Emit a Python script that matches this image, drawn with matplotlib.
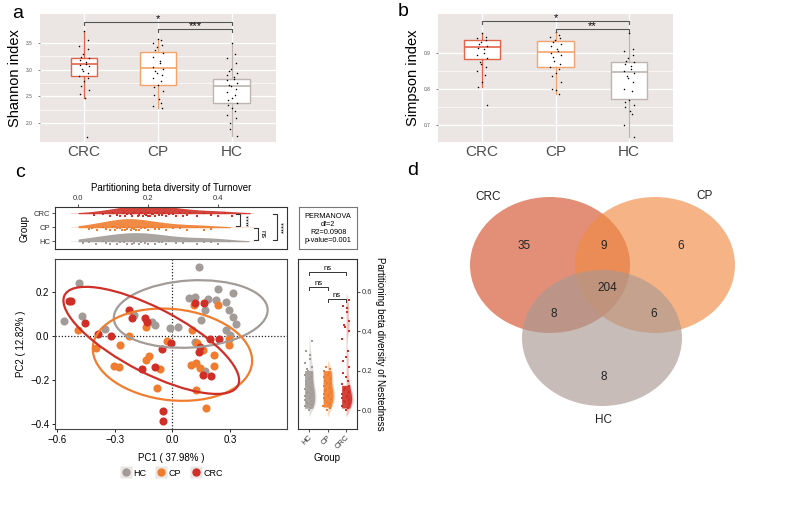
import numpy as np
import matplotlib.pyplot as plt
from matplotlib.patches import Ellipse
from matplotlib.lines import Line2D

plt.rcParams['font.family'] = ['Liberation Sans', 'DejaVu Sans']

# ---- panel a / b : alpha diversity boxplots ----
box_groups = ['CRC', 'CP', 'HC']
# q1, median, q3, lower whisker, upper whisker
shannon_stats = {'CRC': [2.89, 3.11, 3.22, 2.48, 3.72],
                 'CP': [2.72, 3.04, 3.33, 2.28, 3.57],
                 'HC': [2.37, 2.69, 2.83, 1.76, 3.50]}
simpson_stats = {'CRC': [0.883, 0.917, 0.936, 0.805, 0.955],
                 'CP': [0.860, 0.903, 0.934, 0.786, 0.958],
                 'HC': [0.772, 0.847, 0.876, 0.667, 0.955]}

crc_shannon = [3.72, 3.55, 3.45, 3.38, 3.3, 3.24, 3.21, 3.18, 3.14, 3.11, 3.09, 3.06, 3.02,
               2.98, 2.93, 2.88, 2.84, 2.78, 2.7, 2.62, 2.55, 2.48, 1.74]
cp_shannon = [3.57, 3.55, 3.5, 3.46, 3.42, 3.36, 3.32, 3.24, 3.16, 3.12, 3.05, 3.02, 2.98,
              2.94, 2.9, 2.85, 2.78, 2.72, 2.68, 2.6, 2.52, 2.45, 2.38, 2.32, 2.28]
hc_shannon = [3.5, 3.3, 3.22, 3.12, 3.02, 2.98, 2.94, 2.9, 2.86, 2.83, 2.8, 2.76, 2.72, 2.69,
              2.63, 2.58, 2.52, 2.47, 2.43, 2.38, 2.34, 2.28, 2.22, 2.16, 2.1, 2.0, 1.9, 1.76]

crc_simpson = [0.955, 0.945, 0.94, 0.935, 0.93, 0.925, 0.92, 0.915, 0.91, 0.9, 0.895, 0.885,
               0.875, 0.87, 0.86, 0.85, 0.84, 0.82, 0.805, 0.755]
cp_simpson = [0.958, 0.95, 0.945, 0.94, 0.935, 0.93, 0.925, 0.92, 0.912, 0.905, 0.9, 0.895,
              0.888, 0.878, 0.868, 0.86, 0.855, 0.845, 0.835, 0.82, 0.80, 0.798, 0.786]
hc_simpson = [0.955, 0.91, 0.905, 0.895, 0.885, 0.878, 0.875, 0.87, 0.865, 0.855, 0.85, 0.845,
              0.835, 0.83, 0.82, 0.80, 0.795, 0.77, 0.765, 0.755, 0.75, 0.74, 0.73, 0.7, 0.667]

# ---- panel c : turnover / nestedness / PCoA ----
crc_turn = [0.045, 0.07, 0.09, 0.1, 0.11, 0.12, 0.13, 0.135, 0.14, 0.15, 0.155, 0.16, 0.17,
            0.175, 0.18, 0.185, 0.19, 0.195, 0.2, 0.2, 0.205, 0.21, 0.215, 0.22, 0.225, 0.23,
            0.24, 0.245, 0.25, 0.26, 0.27, 0.28, 0.29, 0.3, 0.31, 0.32, 0.34, 0.36, 0.38, 0.4,
            0.42, 0.44]
cp_turn = [0.03, 0.04, 0.055, 0.07, 0.08, 0.09, 0.1, 0.105, 0.11, 0.12, 0.125, 0.13, 0.135,
           0.14, 0.145, 0.15, 0.155, 0.16, 0.165, 0.17, 0.175, 0.18, 0.19, 0.2, 0.21, 0.22,
           0.23, 0.24, 0.25, 0.27, 0.29, 0.31, 0.34, 0.36, 0.38]
hc_turn = [0.015, 0.03, 0.05, 0.07, 0.08, 0.09, 0.1, 0.11, 0.12, 0.13, 0.14, 0.15, 0.155,
           0.16, 0.17, 0.175, 0.18, 0.19, 0.2, 0.21, 0.22, 0.23, 0.24, 0.25, 0.26, 0.28, 0.3,
           0.32, 0.34, 0.36, 0.38, 0.4, 0.43]

hc_nest = [0.0, 0.01, 0.02, 0.025, 0.03, 0.04, 0.045, 0.05, 0.06, 0.065, 0.07, 0.08, 0.085,
           0.09, 0.1, 0.105, 0.11, 0.12, 0.13, 0.14, 0.15, 0.16, 0.17, 0.18, 0.19, 0.2, 0.21,
           0.22, 0.24, 0.26, 0.28, 0.3, 0.35]
cp_nest = [0.0, 0.01, 0.02, 0.03, 0.04, 0.05, 0.055, 0.06, 0.07, 0.075, 0.08, 0.09, 0.095,
           0.1, 0.11, 0.12, 0.13, 0.14, 0.15, 0.16, 0.17, 0.18, 0.19, 0.2, 0.21, 0.22]
crc_nest = [0.0, 0.01, 0.02, 0.03, 0.04, 0.045, 0.05, 0.06, 0.065, 0.07, 0.08, 0.09, 0.1,
            0.11, 0.12, 0.13, 0.15, 0.17, 0.19, 0.22, 0.25, 0.27, 0.3, 0.36, 0.4, 0.42, 0.43,
            0.45, 0.47, 0.5, 0.52, 0.53, 0.56]

hc_pc1 = [-0.562, -0.487, -0.47, -0.351, -0.2, -0.104, -0.09, -0.014, 0.031, 0.136, 0.087,
          0.118, 0.183, 0.17, 0.148, 0.235, 0.226, 0.278, 0.313, 0.296, 0.313, 0.33, 0.278,
          0.299, 0.118, 0.17]
hc_pc2 = [0.069, 0.241, 0.092, 0.032, 0.095, 0.065, 0.05, 0.036, 0.039, 0.313, 0.174, 0.177,
          0.17, 0.12, 0.072, 0.215, 0.162, 0.155, 0.195, 0.117, 0.087, 0.054, 0.027, 0.005,
          -0.026, -0.161]
cp_pc1 = [-0.492, -0.397, -0.27, -0.304, -0.275, -0.226, -0.136, -0.139, -0.122, -0.064,
          -0.078, -0.026, 0.099, 0.11, 0.096, 0.122, 0.144, 0.127, 0.16, 0.214, 0.217, 0.235,
          0.292, 0.296, 0.122, 0.174]
cp_pc2 = [0.027, -0.056, -0.041, -0.138, -0.141, 0.0, 0.042, -0.111, -0.09, -0.15, -0.236,
          -0.021, 0.027, 0.14, -0.131, -0.123, -0.146, -0.03, -0.063, -0.086, -0.135, 0.143,
          -0.015, -0.041, -0.244, -0.326]
crc_pc1 = [-0.539, -0.525, -0.456, -0.388, -0.317, -0.226, -0.209, -0.143, -0.13, -0.056,
           -0.009, -0.157, -0.09, -0.049, -0.049, 0.118, 0.165, 0.139, 0.143, 0.195, 0.24,
           0.157, 0.2]
crc_pc2 = [0.158, 0.159, 0.057, 0.008, 0.0, 0.12, 0.08, 0.083, 0.062, -0.059, -0.03, -0.15,
           -0.141, -0.341, -0.386, 0.15, 0.15, -0.071, -0.048, -0.012, -0.012, -0.176, -0.18]

# confidence ellipses: centre x, centre y, width, height, angle
ellipse_hc = [0.095, 0.10, 0.80, 0.305, 3]
ellipse_cp = [0.0, -0.085, 0.83, 0.415, -5]
ellipse_crc = [-0.11, -0.02, 0.99, 0.30, -24]

# ---- panel d : venn ----
venn_sets = ['CRC', 'CP', 'HC']
venn_counts = [35, 9, 6, 204, 8, 6, 8]

col_grey = '#a29b98'
col_orange = '#f07d2f'
col_red = '#cf2f27'
box_edge = {'CRC': '#e0634a', 'CP': '#f4a36c', 'HC': '#bcb5b1'}


def jitter(n, amp):
    return np.sin(np.arange(n) * 2.4) * amp


def kde(vals, grid, bw):
    v = np.asarray(vals)[:, None]
    return np.exp(-0.5 * ((grid[None, :] - v) / bw) ** 2).sum(axis=0)


fig = plt.figure(figsize=(8, 5.08), dpi=100)


def alpha_box(rect, stats, points, widths, ylim, yticks, ylabel, brackets):
    ax = fig.add_axes(rect)
    ax.set_facecolor('#ebe6e3')
    for s in ax.spines.values():
        s.set_visible(False)
    for i, g in enumerate(box_groups):
        q1, med, q3, lo, hi = stats[g]
        st = [dict(med=med, q1=q1, q3=q3, whislo=lo, whishi=hi, fliers=[])]
        c = box_edge[g]
        ax.bxp(st, positions=[i + 1], widths=widths[i], showcaps=False, patch_artist=True,
               boxprops=dict(facecolor='white', edgecolor=c, lw=1.0),
               medianprops=dict(color=c, lw=1.2), whiskerprops=dict(color=c, lw=0.9),
               zorder=3)
        pts = points[i]
        ax.scatter(i + 1 + jitter(len(pts), 0.07), pts, s=1.2, color='black', zorder=4, lw=0)
    ax.set_xlim(0.4, 3.6)
    ax.set_ylim(*ylim)
    ax.set_yticks(yticks)
    mids = [(a + b) / 2 for a, b in zip(yticks[:-1], yticks[1:])]
    ax.set_yticks(mids, minor=True)
    ax.grid(True, which='major', color='white', lw=0.9)
    ax.grid(True, which='minor', color='white', lw=0.5)
    ax.set_axisbelow(True)
    ax.set_xticks([1, 2, 3])
    ax.set_xticklabels(box_groups, fontsize=11, color='#4d4d4d')
    ax.tick_params(axis='y', labelsize=3.5, colors='#555555', length=1.5, width=0.5)
    ax.tick_params(axis='y', which='minor', length=0)
    ax.tick_params(axis='x', length=0, pad=2)
    ax.set_ylabel(ylabel, fontsize=10.5, labelpad=3)
    h = (ylim[1] - ylim[0]) * 0.025
    for x1, x2, y, txt in brackets:
        ax.plot([x1, x1, x2, x2], [y - h, y, y, y - h], color='#555555', lw=0.8, zorder=5)
        ax.text((x1 + x2) / 2, y - h * 0.6, txt, ha='center', va='bottom', fontsize=8, zorder=5)
    return ax


alpha_box([0.05, 0.7205, 0.295, 0.252], shannon_stats,
          [crc_shannon, cp_shannon, hc_shannon], [0.35, 0.5, 0.5], (1.65, 4.04),
          [2.0, 2.5, 3.0, 3.5], 'Shannon index',
          [(1, 3, 3.89, '*'), (2, 3, 3.76, '***')])
alpha_box([0.5475, 0.7205, 0.294, 0.252], simpson_stats,
          [crc_simpson, cp_simpson, hc_simpson], [0.5, 0.5, 0.5], (0.653, 1.008),
          [0.7, 0.8, 0.9], 'Simpson index',
          [(1, 3, 0.989, '*'), (2, 3, 0.967, '**')])

# ---- turnover raincloud ----
ax_t = fig.add_axes([0.06875, 0.5098, 0.29, 0.0827])
turn = [('CRC', crc_turn, col_red, 3), ('CP', cp_turn, col_orange, 2), ('HC', hc_turn, col_grey, 1)]
grid = np.linspace(0.0, 0.5, 300)
for name, vals, c, y in turn:
    d = kde(vals, grid, 0.045)
    d = d / d.max() * 0.6
    ax_t.plot([-0.02, 0.5], [y, y], color=c, alpha=0.2, lw=0.8)
    ax_t.fill_between(grid, y - 0.05, y + d, where=d > 0.03, color=c, alpha=0.9, lw=0)
    ax_t.scatter(vals, y - 0.12 + jitter(len(vals), 0.12), s=3, marker='s', color=c, lw=0)
ax_t.set_xlim(-0.066, 0.597)
ax_t.set_ylim(0.43, 3.43)
ax_t.xaxis.tick_top()
ax_t.xaxis.set_label_position('top')
ax_t.set_xticks([0.0, 0.2, 0.4])
ax_t.set_xticklabels(['0.0', '0.2', '0.4'])
ax_t.set_yticks([3, 2, 1])
ax_t.set_yticklabels(['CRC', 'CP', 'HC'])
ax_t.tick_params(labelsize=5.5, length=2, width=0.6, pad=1.5, colors='#333333')
ax_t.set_xlabel('Partitioning beta diversity of Turnover', fontsize=7, labelpad=3)
ax_t.set_ylabel('Group', fontsize=7, labelpad=3)
for s in ax_t.spines.values():
    s.set_linewidth(0.8)
    s.set_color('#333333')
for x, y1, y2, txt, tx, rot in [(0.463, 2.95, 2.05, '****', 0.49, 90),
                                (0.514, 1.95, 1.05, 'ns', 0.525, 270),
                                (0.569, 2.95, 1.05, '****', 0.59, 90)]:
    ax_t.plot([x - 0.012, x, x, x - 0.012], [y1, y1, y2, y2], color='#333333', lw=0.8)
    ax_t.text(tx, (y1 + y2) / 2, txt, rotation=rot, ha='center', va='center', fontsize=5.5)

# ---- PERMANOVA box ----
ax_p = fig.add_axes([0.374, 0.5098, 0.0725, 0.0827])
ax_p.set_xticks([])
ax_p.set_yticks([])
for s in ax_p.spines.values():
    s.set_color('#777777')
    s.set_linewidth(0.8)
ax_p.text(0.5, 0.5, 'PERMANOVA\ndf=2\nR2=0.0908\np-value=0.001', ha='center', va='center',
          fontsize=5.3, linespacing=1.2, transform=ax_p.transAxes)

# ---- PCoA ----
ax_c = fig.add_axes([0.06875, 0.1555, 0.29, 0.3346])
ax_c.axvline(0, color='#222222', ls=(0, (1, 1.5)), lw=0.9, zorder=1)
ax_c.axhline(0, color='#222222', ls=(0, (1, 1.5)), lw=0.9, zorder=1)
for xs, ys, c in [(hc_pc1, hc_pc2, col_grey), (cp_pc1, cp_pc2, col_orange),
                  (crc_pc1, crc_pc2, col_red)]:
    ax_c.scatter(xs, ys, s=34, color=c, lw=0, zorder=2)
for e, c in [(ellipse_hc, col_grey), (ellipse_cp, col_orange), (ellipse_crc, col_red)]:
    ax_c.add_patch(Ellipse((e[0], e[1]), e[2], e[3], angle=e[4], fill=False, edgecolor=c,
                           lw=1.6, zorder=3))
ax_c.set_xlim(-0.61, 0.595)
ax_c.set_ylim(-0.423, 0.35)
ax_c.set_xticks([-0.6, -0.3, 0.0, 0.3])
ax_c.set_xticklabels(['\u22120.6', '\u22120.3', '0.0', '0.3'])
ax_c.set_yticks([-0.4, -0.2, 0.0, 0.2])
ax_c.set_yticklabels(['\u22120.4', '\u22120.2', '0.0', '0.2'])
ax_c.tick_params(labelsize=7, length=2.5, width=0.6, pad=1.5)
ax_c.set_xlabel('PC1 ( 37.98% )', fontsize=7, labelpad=6)
ax_c.set_ylabel('PC2 ( 12.82% )', fontsize=7, labelpad=3)
for s in ax_c.spines.values():
    s.set_linewidth(0.8)
    s.set_color('#444444')

# legend with ggplot-like grey key backgrounds
handles = [(Line2D([], [], ls='', marker='s', ms=9, mfc='#ebe6e3', mec='none'),
            Line2D([], [], ls='', marker='o', ms=6, mfc=c, mec='none'))
           for c in [col_grey, col_orange, col_red]]
fig.legend(handles, ['HC', 'CP', 'CRC'], loc='center',
           bbox_to_anchor=(172 / 800, 1 - 473 / 508), ncol=3, frameon=False,
           fontsize=6.5, handletextpad=0.3, columnspacing=1.2, handlelength=1.0)

# ---- nestedness ----
ax_n = fig.add_axes([0.3725, 0.1555, 0.07375, 0.3346])
nest = [('HC', hc_nest, col_grey, 1), ('CP', cp_nest, col_orange, 2), ('CRC', crc_nest, col_red, 3)]
for name, vals, c, x in nest:
    gy = np.linspace(-0.03, max(vals) + 0.03, 200)
    d = kde(vals, gy, 0.025)
    d = d / d.max()
    # faint half violin on the right, solid block of points in the core
    ax_n.fill_betweenx(gy, x, x + 0.38 * d, color=c, alpha=0.3, lw=0)
    ax_n.fill_betweenx(gy, x - 0.24, x + 0.3 * d, where=d > 0.6, color=c, alpha=0.9, lw=0)
    ax_n.scatter(x - 0.02 + jitter(len(vals), 0.2), vals, s=2.5, marker='s', color=c, lw=0)
ax_n.set_xlim(0.405, 3.59)
ax_n.set_ylim(-0.096, 0.767)
ax_n.yaxis.tick_right()
ax_n.yaxis.set_label_position('right')
ax_n.set_yticks([0.0, 0.2, 0.4, 0.6])
ax_n.set_xticks([1, 2, 3])
ax_n.set_xticklabels(['HC', 'CP', 'CRC'], rotation=45, ha='right', rotation_mode='anchor')
ax_n.tick_params(labelsize=5.5, length=2, width=0.6, pad=1.5, colors='#333333')
ax_n.set_ylabel('Partitioning beta diversity of Nestedness', rotation=270, fontsize=7,
                labelpad=9)
ax_n.set_xlabel('Group', fontsize=7, labelpad=2)
for s in ax_n.spines.values():
    s.set_linewidth(0.8)
    s.set_color('#333333')
for x1, x2, y in [(1, 3, 0.70), (1, 2, 0.625), (2, 3, 0.565)]:
    ax_n.plot([x1, x1, x2, x2], [y - 0.015, y, y, y - 0.015], color='#333333', lw=0.7)
    ax_n.text((x1 + x2) / 2, y, 'ns', ha='center', va='bottom', fontsize=5.5)

# ---- venn ----
ax_v = fig.add_axes([0.5, 0.0, 0.5, 0.7])
ax_v.set_xlim(400, 800)
ax_v.set_ylim(508, 152.4)
ax_v.axis('off')
venn_geom = [((550, 265), '#d5532f'), ((655, 265), '#f08a45'), ((602, 338), '#aa9992')]
for (cx, cy), c in venn_geom:
    ax_v.add_patch(Ellipse((cx, cy), 160, 136, facecolor=c, alpha=0.65, lw=0))
for name, (x, y) in zip(venn_sets, [(488, 197), (705, 196), (604, 420)]):
    ax_v.text(x, y, name, ha='center', va='center', fontsize=8.5, color='#222222')
region_pos = [(524, 246), (604, 246), (681, 246), (607, 288), (554, 314), (654, 314), (604, 377)]
for n, (x, y) in zip(venn_counts, region_pos):
    ax_v.text(x, y, str(n), ha='center', va='center', fontsize=8.5, color='#222222')

for lab, x, y in [('a', 18, 13), ('b', 403, 12), ('c', 20, 172), ('d', 413, 170)]:
    fig.text(x / 800, 1 - y / 508, lab, ha='center', va='center', fontsize=14)

fig.savefig('out.png', dpi=100)
